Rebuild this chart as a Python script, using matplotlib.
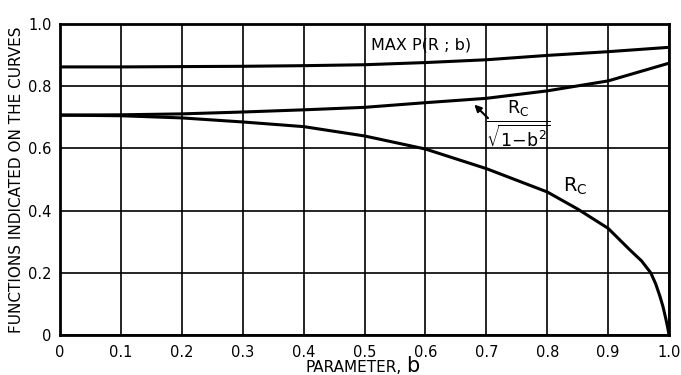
import matplotlib
matplotlib.use("Agg")
import matplotlib.pyplot as plt

# values
b_grid = [0.0, 0.1, 0.2, 0.3, 0.4, 0.5, 0.6, 0.7, 0.8, 0.9, 1.0]
max_p = [0.862, 0.862, 0.863, 0.864, 0.866, 0.869, 0.876, 0.885, 0.899, 0.911, 0.925]
rc_ratio = [0.707, 0.708, 0.711, 0.717, 0.724, 0.732, 0.747, 0.761, 0.785, 0.817, 0.874]

b_rc = [0.0, 0.1, 0.2, 0.3, 0.4, 0.5, 0.6, 0.7, 0.8, 0.85, 0.9, 0.935,
        0.955, 0.97, 0.978, 0.985, 0.99, 0.995, 0.998, 1.0]
rc = [0.707, 0.705, 0.698, 0.685, 0.670, 0.640, 0.598, 0.535, 0.460, 0.405, 0.343, 0.275,
      0.238, 0.200, 0.165, 0.125, 0.092, 0.050, 0.022, 0.0]

x_ticks = [0.0, 0.1, 0.2, 0.3, 0.4, 0.5, 0.6, 0.7, 0.8, 0.9, 1.0]
x_labels = ["0", "0.1", "0.2", "0.3", "0.4", "0.5", "0.6", "0.7", "0.8", "0.9", "1.0"]
y_ticks = [0.0, 0.2, 0.4, 0.6, 0.8, 1.0]
y_labels = ["0", "0.2", "0.4", "0.6", "0.8", "1.0"]

plt.rcParams["font.family"] = "DejaVu Sans"

fig = plt.figure(figsize=(6.81, 3.75), dpi=100)
ax = fig.add_axes([0.0881, 0.1067, 0.8943, 0.8293])

ax.plot(b_grid, max_p, color="black", lw=2.2, solid_capstyle="butt")
ax.plot(b_grid, rc_ratio, color="black", lw=2.2, solid_capstyle="butt")
ax.plot(b_rc, rc, color="black", lw=2.2, solid_capstyle="butt")

ax.set_xlim(0, 1.0)
ax.set_ylim(0, 1.0)
ax.set_xticks(x_ticks)
ax.set_xticklabels(x_labels)
ax.set_yticks(y_ticks)
ax.set_yticklabels(y_labels)
ax.tick_params(length=0, labelsize=10.5, colors="black")
ax.tick_params(axis="x", pad=7)
ax.tick_params(axis="y", pad=6)
ax.grid(True, color="black", lw=1.2)
ax.set_axisbelow(True)
for s in ax.spines.values():
    s.set_linewidth(2)

ax.set_ylabel("FUNCTIONS INDICATED ON THE CURVES", fontsize=11, labelpad=3)
fig.text(0.590, 0.008, "PARAMETER,", fontsize=11, ha="right", va="baseline")
fig.text(0.597, 0.008, "b", fontsize=15, ha="left", va="baseline")

# curve labels
ax.text(0.510, 0.932, "MAX P(R ; b)", fontsize=11.5, ha="left", va="center")
ax.text(0.846, 0.477, r"$\mathrm{R_C}$", fontsize=14, ha="center", va="center")
ax.text(0.752, 0.678, r"$\frac{\mathrm{R_C}}{\sqrt{\mathrm{1\!-\!b^2}}}$",
        fontsize=18, ha="center", va="center")
ax.annotate("", xy=(0.677, 0.747), xytext=(0.706, 0.691),
            arrowprops=dict(arrowstyle="-|>", color="black", lw=1.5, mutation_scale=10))

fig.savefig("out.png", dpi=100, facecolor="white")
